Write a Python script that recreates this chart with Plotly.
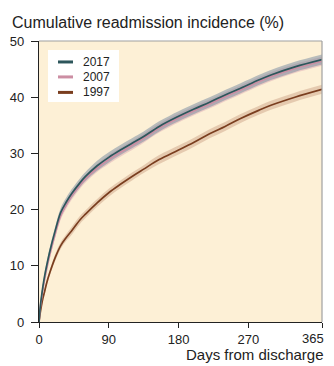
import plotly.graph_objects as go

days = [0, 1, 2, 3, 5, 7, 10, 14, 21, 28, 35, 42, 53, 60, 75, 90, 105, 120, 135,
        155, 180, 200, 220, 240, 260, 284, 300, 330, 365]

inc_2017 = [0, 1.8, 3.2, 4.3, 6.3, 8.0, 10.1, 12.6, 16.3, 19.5, 21.3, 22.8, 24.8, 25.9,
            27.8, 29.3, 30.6, 31.8, 33.0, 34.8, 36.6, 37.9, 39.1, 40.4, 41.6, 43.1,
            44.0, 45.4, 46.7]
inc_2007 = [0, 1.6, 2.9, 3.9, 5.8, 7.4, 9.5, 12.0, 15.7, 18.9, 20.8, 22.4, 24.4, 25.5,
            27.4, 28.9, 30.2, 31.4, 32.7, 34.5, 36.3, 37.6, 38.8, 40.1, 41.3, 42.8,
            43.7, 45.1, 46.4]
inc_1997 = [0, 1.1, 2.0, 2.8, 4.2, 5.3, 7.0, 8.8, 11.5, 13.6, 15.0, 16.2, 18.2, 19.2,
            21.2, 23.0, 24.5, 25.9, 27.2, 28.9, 30.6, 32.0, 33.5, 34.8, 36.2, 37.7,
            38.6, 40.0, 41.4]

# half-width of the confidence bands (percentage points)
ci_2017 = [0, 0.3, 0.4, 0.5, 0.5, 0.6, 0.6, 0.7, 0.7, 0.8, 0.8, 0.8, 0.8, 0.8, 0.9,
           0.9, 0.9, 0.9, 0.9, 0.9, 0.9, 0.9, 0.9, 0.9, 0.9, 0.9, 0.9, 0.9, 0.9]
ci_2007 = [0, 0.3, 0.4, 0.4, 0.5, 0.5, 0.5, 0.6, 0.6, 0.7, 0.7, 0.7, 0.7, 0.7, 0.7,
           0.8, 0.8, 0.8, 0.8, 0.8, 0.8, 0.8, 0.8, 0.8, 0.8, 0.8, 0.8, 0.8, 0.8]
ci_1997 = [0, 0.3, 0.3, 0.4, 0.4, 0.5, 0.5, 0.5, 0.6, 0.6, 0.6, 0.7, 0.7, 0.7, 0.7,
           0.7, 0.7, 0.7, 0.7, 0.8, 0.8, 0.8, 0.8, 0.8, 0.8, 0.8, 0.8, 0.8, 0.8]

x_ticks = [0, 90, 180, 270, 365]
x_tick_labels = ["0", "90", "180", "270", "365"]
y_ticks = [0, 10, 20, 30, 40, 50]

series = [
    ("1997", inc_1997, ci_1997, "#7a3e1f", "rgba(175,115,85,0.30)"),
    ("2007", inc_2007, ci_2007, "#cc8ea3", "rgba(205,140,165,0.35)"),
    ("2017", inc_2017, ci_2017, "#2d565b", "rgba(115,135,160,0.50)"),
]

fig = go.Figure()
for name, vals, ci, col, band in series:
    upper = [v + c for v, c in zip(vals, ci)]
    lower = [max(v - c, 0) for v, c in zip(vals, ci)]
    fig.add_trace(go.Scatter(x=days, y=upper, mode="lines", line=dict(width=0, shape="spline"),
                             showlegend=False, hoverinfo="skip"))
    fig.add_trace(go.Scatter(x=days, y=lower, mode="lines", line=dict(width=0, shape="spline"),
                             fill="tonexty", fillcolor=band, showlegend=False, hoverinfo="skip"))

for name, vals, ci, col, band in series:
    fig.add_trace(go.Scatter(x=days, y=vals, mode="lines", name=name, showlegend=False,
                             line=dict(color=col, width=1.7, shape="spline")))

font_family = "Liberation Sans, Arial, sans-serif"
TXT = "#222222"

# the page body has an 8px margin: figure is placed at (8, 8); visible width ends at 326
W, H = 318, 358
ML, MR, MT = 31, 4, 33
PW, PH = W - ML - MR, 281.5
MB = H - MT - PH

def px(sx):  # screen x -> paper x
    return (sx - 39) / PW

def py(sy):  # screen y -> paper y
    return (322.5 - sy) / PH

fig.update_layout(
    width=W, height=H,
    margin=dict(l=ML, r=MR, t=MT, b=MB, pad=0, autoexpand=False),
    paper_bgcolor="white",
    plot_bgcolor="#fdf0d6",
    font=dict(family=font_family, size=12, color=TXT),
    title=dict(text="Cumulative readmission incidence (%)", x=4 / W, xanchor="left",
               y=1 - 14 / H, yanchor="middle", yref="container",
               font=dict(size=16, color=TXT)),
    showlegend=False,
)

# last tick label is placed as an annotation so it stays inside the visible page
fig.update_xaxes(range=[0, 365], tickvals=x_ticks, ticktext=x_tick_labels[:-1] + [""],
                 showgrid=False, zeroline=False, showline=True, linecolor=TXT, linewidth=1.2,
                 ticks="outside", ticklen=5, tickcolor=TXT, automargin=False,
                 tickfont=dict(size=13, color=TXT))
fig.update_yaxes(range=[0, 50], tickvals=y_ticks, showgrid=False,
                 zeroline=False, showline=True, linecolor=TXT, linewidth=1.2,
                 ticks="outside", ticklen=7, tickcolor=TXT, automargin=False,
                 ticklabelstandoff=4, tickfont=dict(size=13, color=TXT))

fig.add_annotation(text=x_tick_labels[-1], xref="paper", yref="paper", x=1 + 4 / PW, y=0,
                   xanchor="right", yanchor="middle", yshift=-16.5, showarrow=False,
                   font=dict(size=13, color=TXT))

# light grey frame on top and right
fig.add_shape(type="line", xref="paper", yref="paper", x0=0, x1=1, y0=1, y1=1,
              line=dict(color="#a0a0a0", width=1.2))
fig.add_shape(type="line", xref="paper", yref="paper", x0=1, x1=1, y0=0, y1=1,
              line=dict(color="#a0a0a0", width=1.2))

# legend box (drawn manually for compact spacing)
fig.add_shape(type="rect", xref="paper", yref="paper", x0=px(48), x1=px(119),
              y0=py(102), y1=py(50), fillcolor="white", line=dict(width=0), layer="above")
legend_rows = [(62, series[2]), (77, series[1]), (92.5, series[0])]
for sy, (name, vals, ci, col, band) in legend_rows:
    fig.add_shape(type="line", xref="paper", yref="paper", x0=px(58), x1=px(73),
                  y0=py(sy), y1=py(sy), line=dict(color=col, width=3), layer="above")
    fig.add_annotation(text=name, xref="paper", yref="paper", x=px(81), y=py(sy),
                       xanchor="left", yanchor="middle", showarrow=False,
                       font=dict(size=12, color=TXT))

fig.add_annotation(text="Days from discharge", xref="paper", yref="paper", x=1 + 4 / PW, y=0,
                   xanchor="right", yanchor="middle", yshift=-32,
                   showarrow=False, font=dict(size=15, color=TXT))

fig.write_html("out.html")
